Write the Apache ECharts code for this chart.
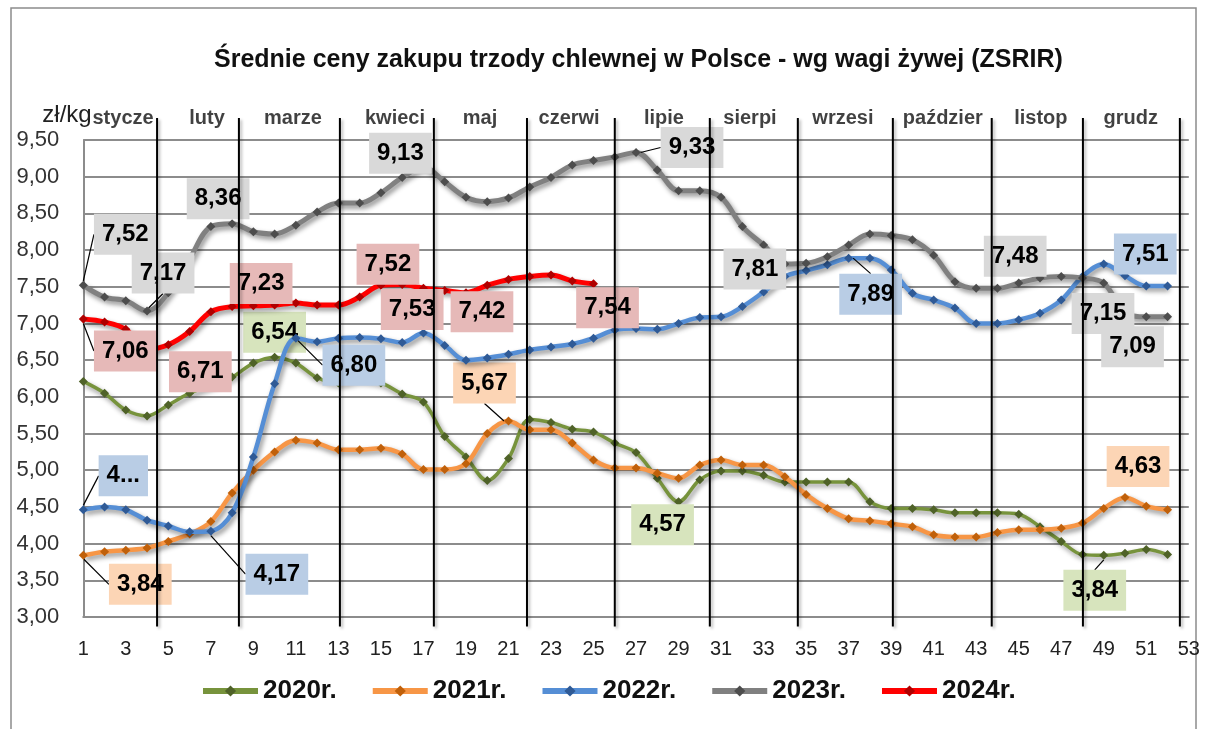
<!DOCTYPE html>
<html><head><meta charset="utf-8">
<script src="https://cdn.jsdelivr.net/npm/echarts@6/dist/echarts.min.js"></script>
<style>html,body{margin:0;padding:0;background:#fff}#c{width:1208px;height:729px}</style>
</head><body><div id="c"></div>
<script>
// ---- data ----
const weeks = [1,2,3,4,5,6,7,8,9,10,11,12,13,14,15,16,17,18,19,20,21,22,23,24,25,26,27,28,29,30,31,32,33,34,35,36,37,38,39,40,41,42,43,44,45,46,47,48,49,50,51,52];
const xTickLabels = ['1','3','5','7','9','11','13','15','17','19','21','23','25','27','29','31','33','35','37','39','41','43','45','47','49','51','53'];
const s2020 = [6.21,6.05,5.82,5.74,5.89,6.05,6.16,6.27,6.46,6.54, 6.46,6.26,6.19,6.23,6.19,6.04,5.93,5.46,5.18,4.86, 5.16,5.69,5.65,5.56,5.52,5.37,5.24,4.89,4.57,4.87, 4.99,4.99,4.93,4.84,4.84,4.84,4.84,4.57,4.48,4.48, 4.46,4.42,4.42,4.42,4.40,4.23,4.03,3.85,3.84,3.87,3.92,3.85];
const s2021 = [3.84,3.89,3.91,3.94,4.03,4.13,4.30,4.69,5.00,5.25, 5.41,5.37,5.28,5.28,5.30,5.22,5.01,5.01,5.09,5.50, 5.67,5.55,5.55,5.37,5.14,5.03,5.03,4.96,4.89,5.07, 5.14,5.07,5.07,4.91,4.67,4.48,4.34,4.31,4.27,4.23, 4.12,4.09,4.09,4.15,4.19,4.19,4.21,4.28,4.48,4.63,4.51,4.46];
const s2022 = [4.46,4.50,4.46,4.32,4.24,4.16,4.17,4.42,5.18,6.18, 6.80,6.75,6.80,6.81,6.79,6.74,6.87,6.70,6.50,6.53, 6.58,6.64,6.68,6.72,6.80,6.91,6.93,6.92,7.00,7.08, 7.09,7.23,7.43,7.64,7.72,7.80,7.89,7.89,7.73,7.41, 7.32,7.21,7.00,7.00,7.05,7.14,7.32,7.64,7.81,7.65,7.51,7.51];
const s2023 = [7.52,7.36,7.31,7.17,7.42,7.88,8.32,8.36,8.25,8.22, 8.34,8.52,8.64,8.64,8.78,8.99,9.13,8.93,8.72,8.66, 8.71,8.86,8.99,9.16,9.22,9.27,9.33,9.09,8.81,8.81, 8.72,8.32,8.07,7.81,7.82,7.91,8.07,8.22,8.20,8.14, 7.93,7.57,7.48,7.48,7.55,7.62,7.64,7.62,7.55,7.15,7.09,7.09];
const s2024 = [7.06,7.02,6.92,6.65,6.71,6.89,7.16,7.23,7.24,7.25, 7.28,7.25,7.25,7.36,7.52,7.53,7.48,7.45,7.42,7.52, 7.60,7.64,7.66,7.58,7.54];
const seriesNames = ['2020r.','2021r.','2022r.','2023r.','2024r.'];
const monthNames = ['stycze','luty','marze','kwieci','maj','czerwi','lipie','sierpi','wrzesi','paździer','listop','grudz'];
const monthLabelWeek = [2.87,6.82,10.86,15.66,19.66,23.85,28.31,32.36,36.73,41.43,46.04,50.27];
const monthBoundaryWeek = [4.47,8.32,13.07,17.49,21.87,26.0,30.47,34.61,39.08,43.73,48.02,52.58];

// ---- styling ----
const lineColors = ['#77933C','#F79646','#558ED5','#808080','#FF0000'];
const markerColors = ['#4F6228','#C0600A','#2F5A96','#4D4D4D','#B00000'];
const labelBg = ['#D7E4BD','#FCD5B5','#B9CDE5','#D9D9D9','#E6B9B8'];
const lineWidths = [3.5,4.5,4.5,5,5];
// label placement: dataIndex -> [dx, dy, leaderLine, customText]
const labelSpecs = [
  {9:[0,-25,false], 28:[-16,23,false], 48:[-9,35,true]},
  {0:[57,29,true], 20:[-24,-38,true], 49:[13,-31,false]},
  {0:[40,-34,true,'4...'], 6:[66,43,true], 10:[58,27,true], 36:[22,36,true], 50:[-1,-32,false]},
  {0:[42,-51,true], 3:[16,-38,true], 7:[-14,-25,false], 16:[-23,-14,false], 26:[56,-5,true], 33:[-30,5,false], 42:[39,-32,false], 49:[-22,1,false], 51:[-35,30,false]},
  {0:[42,32,true], 4:[32,27,false], 7:[29,-23,false], 14:[7,-21,false], 15:[10,25,false], 18:[16,19,false], 24:[14,24,false]}
];
const FONT = 'Liberation Sans';
const fmt = v => v.toFixed(2).replace('.', ',');

const allValues = [s2020, s2021, s2022, s2023, s2024];

const lineSeries = allValues.map((vals, si) => ({
  name: seriesNames[si],
  type: 'line',
  smooth: 0.35,
  showAllSymbol: true,
  symbol: 'diamond',
  symbolSize: 9,
  z: 2 + si,
  lineStyle: {color: lineColors[si], width: lineWidths[si], shadowColor: 'rgba(0,0,0,0.45)', shadowBlur: 5, shadowOffsetX: 2, shadowOffsetY: 3},
  itemStyle: {color: markerColors[si], borderWidth: 0},
  label: {show: false},
  labelLine: {show: false, lineStyle: {color: '#000', width: 1.2}, smooth: false},
  labelLayout: function (p) {
    const sp = labelSpecs[si][p.dataIndex];
    if (!sp) return {};
    return {dx: sp[0], dy: sp[1]};
  },
  animation: false,
  data: vals.map((v, i) => {
    const sp = labelSpecs[si][i];
    const point = [weeks[i] - 1, v];
    if (!sp) return point;
    return {
      value: point,
      label: {
        show: true, position: 'inside',
        formatter: sp[3] ? sp[3] : (q => fmt(q.value[1])),
        fontFamily: FONT, fontWeight: 'bold', fontSize: 24, color: '#000',
        backgroundColor: labelBg[si], padding: [8, 8, 7, 8], lineHeight: 26
      },
      labelLine: {show: sp[2], lineStyle: {color: '#000', width: 1.2}}
    };
  })
}));

const monthLabelSeries = {
  name: 'months', type: 'scatter', symbolSize: 0, clip: false, z: 20, silent: true,
  data: monthLabelWeek.map((w, i) => ({value: [w - 1, 9.8], name: monthNames[i]})),
  label: {show: true, position: 'inside', formatter: p => p.name, fontFamily: FONT, fontWeight: 'bold', fontSize: 20, color: '#111'},
  animation: false
};

const monthLineData = [];
monthBoundaryWeek.forEach(b => {
  monthLineData.push([b - 1, 2.87], [b - 1, 9.8], [b - 1, '-']);
});
const monthLineSeries = {
  name: 'monthLines', type: 'line', clip: false, z: 20, silent: true,
  symbol: 'none', showSymbol: false, connectNulls: false, smooth: false,
  lineStyle: {color: '#000', width: 2, shadowColor: 'rgba(0,0,0,0.3)', shadowBlur: 3, shadowOffsetX: 2, shadowOffsetY: 2},
  data: monthLineData,
  animation: false
};

const chart = echarts.init(document.getElementById('c'), null, {renderer: 'canvas'});
chart.setOption({
  backgroundColor: '#fff',
  animation: false,
  title: {
    text: 'Średnie ceny zakupu trzody chlewnej w Polsce - wg wagi żywej (ZSRIR)',
    left: 214, top: 48, padding: 0,
    textStyle: {fontFamily: FONT, fontWeight: 'bold', fontSize: 25, color: '#111'}
  },
  graphic: [{type: 'rect', shape: {x: 11, y: 8, width: 1185, height: 740}, style: {fill: 'none', stroke: '#8c8c8c', lineWidth: 1.5}, silent: true, z: -1}],
  legend: {
    data: seriesNames, left: 200, top: 678, padding: 0, itemGap: 33, itemWidth: 55, itemHeight: 14,
    lineStyle: {width: 6},
    textStyle: {fontFamily: FONT, fontWeight: 'bold', fontSize: 26, color: '#111'}
  },
  grid: {left: 83.3, right: 19.2, top: 140, bottom: 112, containLabel: false},
  xAxis: {
    type: 'value', min: 0, max: 52, interval: 2,
    axisLine: {show: true, lineStyle: {color: '#8c8c8c', width: 2}},
    axisTick: {show: false},
    splitLine: {show: false},
    axisLabel: {formatter: v => xTickLabels[Math.round(v / 2)], fontFamily: FONT, fontSize: 20, color: '#222', margin: 22}
  },
  yAxis: {
    type: 'value', min: 3, max: 9.5, interval: 0.5,
    name: 'zł/kg', nameLocation: 'end', nameGap: 25,
    nameTextStyle: {fontFamily: FONT, fontSize: 24, color: '#222', align: 'left', verticalAlign: 'middle', padding: [0, 0, 0, -41]},
    axisLine: {show: true, lineStyle: {color: '#8c8c8c', width: 2}},
    axisTick: {show: false},
    splitLine: {show: true, lineStyle: {color: '#8c8c8c', width: 2}},
    axisLabel: {formatter: v => fmt(v), fontFamily: FONT, fontSize: 22, color: '#333', margin: 24}
  },
  series: [...lineSeries, monthLabelSeries, monthLineSeries]
});
</script></body></html>
